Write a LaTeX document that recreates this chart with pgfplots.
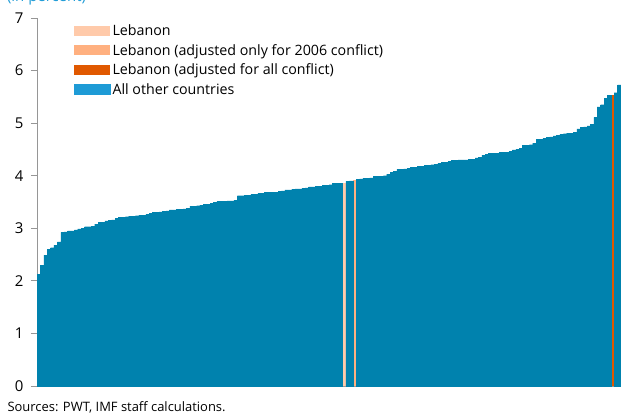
\documentclass[border=0pt]{standalone}
\usepackage{fontspec}
\setmainfont{Open Sans}
\usepackage{pgfplots}
\pgfplotsset{compat=1.18}
\usepackage{pgfplotstable}
\definecolor{barblue}{RGB}{0,130,174}
\definecolor{legblue}{RGB}{30,155,214}
\definecolor{lebA}{RGB}{255,202,170}
\definecolor{lebB}{RGB}{255,176,128}
\definecolor{lebC}{RGB}{224,88,0}
\definecolor{axisgray}{RGB}{150,150,150}
\definecolor{titleblue}{RGB}{30,155,214}

\pgfplotstableread{
x y
0 2.13
1 2.30
2 2.49
3 2.60
4 2.63
5 2.68
6 2.74
7 2.92
8 2.93
9 2.95
10 2.95
11 2.97
12 2.99
13 3.00
14 3.03
15 3.03
16 3.04
17 3.08
18 3.11
19 3.11
20 3.14
21 3.15
22 3.16
23 3.19
24 3.21
25 3.21
26 3.22
27 3.23
28 3.23
29 3.24
30 3.25
31 3.25
32 3.26
33 3.28
34 3.30
35 3.30
36 3.31
37 3.32
38 3.33
39 3.35
40 3.35
41 3.36
42 3.36
43 3.37
44 3.38
45 3.42
46 3.42
47 3.43
48 3.44
49 3.45
50 3.46
51 3.47
52 3.49
53 3.51
54 3.51
55 3.51
56 3.52
57 3.52
58 3.53
59 3.62
60 3.62
61 3.63
62 3.63
63 3.65
64 3.65
65 3.66
66 3.67
67 3.68
68 3.69
69 3.69
70 3.69
71 3.70
72 3.71
73 3.73
74 3.73
75 3.74
76 3.75
77 3.75
78 3.76
79 3.77
80 3.79
81 3.79
82 3.80
83 3.80
84 3.82
85 3.82
86 3.83
87 3.85
88 3.85
89 3.86
91 3.89
92 3.90
94 3.93
95 3.94
96 3.95
97 3.95
98 3.96
99 3.99
100 3.99
101 3.99
102 4.00
103 4.03
104 4.07
105 4.08
106 4.12
107 4.12
108 4.13
109 4.14
110 4.16
111 4.16
112 4.18
113 4.18
114 4.20
115 4.20
116 4.21
117 4.22
118 4.23
119 4.25
120 4.25
121 4.27
122 4.29
123 4.29
124 4.30
125 4.30
126 4.30
127 4.31
128 4.31
129 4.34
130 4.35
131 4.39
132 4.41
133 4.43
134 4.43
135 4.43
136 4.44
137 4.44
138 4.45
139 4.46
140 4.49
141 4.50
142 4.52
143 4.58
144 4.58
145 4.59
146 4.62
147 4.69
148 4.69
149 4.71
150 4.73
151 4.74
152 4.76
153 4.77
154 4.79
155 4.80
156 4.81
157 4.81
158 4.82
159 4.89
160 4.92
161 4.93
162 4.95
163 4.98
164 5.11
165 5.31
166 5.35
167 5.47
168 5.53
170 5.58
171 5.73
}\others

\pgfplotstableread{
x y
90 3.87
}\lebanon

\pgfplotstableread{
x y
93 3.91
}\lebanonsix

\pgfplotstableread{
x y
169 5.54
}\lebanonall

\begin{document}
\begin{tikzpicture}
\useasboundingbox (-37bp,-29bp) rectangle (584bp,386bp);
\begin{axis}[
  at={(0,0)}, anchor=south west,
  scale only axis, width=584bp, height=368bp,
  xmin=-0.5, xmax=171.5, ymin=0, ymax=7,
  axis x line*=bottom, axis y line*=left,
  ytick={0,1,2,3,4,5,6,7}, xtick=\empty,
  tick align=outside, major tick length=6bp,
  axis line style={draw=axisgray, line width=1bp},
  y tick style={draw=axisgray, line width=1bp},
  /pgf/number format/assume math mode=true,
  yticklabel style={font=\fontsize{15}{18}\selectfont, anchor=east, xshift=-4bp},
  legend style={at={(axis description cs:0.0634,0.988)}, anchor=north west,
    draw=none, fill=none, font=\fontsize{14.3}{17}\selectfont,
    row sep=3.2bp, inner sep=0pt, cells={anchor=west}},
  legend cell align=left,
]
\addplot[ybar, bar width=1, bar shift=0pt, fill=lebA, draw=none,
  legend image code/.code={\fill[lebA] (0bp,-5bp) rectangle (36bp,5bp);}] table {\lebanon};
\addlegendentry{Lebanon}
\addplot[ybar, bar width=1, bar shift=0pt, fill=lebB, draw=none,
  legend image code/.code={\fill[lebB] (0bp,-5bp) rectangle (36bp,5bp);}] table {\lebanonsix};
\addlegendentry{Lebanon (adjusted only for 2006 conflict)}
\addplot[ybar, bar width=1, bar shift=0pt, fill=lebC, draw=none,
  legend image code/.code={\fill[lebC] (0bp,-5bp) rectangle (36bp,5bp);}] table {\lebanonall};
\addlegendentry{Lebanon (adjusted for all conflict)}
\addplot[ybar, bar width=1, bar shift=0pt, fill=barblue, draw=barblue, line width=0.3bp,
  legend image code/.code={\fill[legblue] (0bp,-5bp) rectangle (36bp,5bp);}] table {\others};
\addlegendentry{All other countries}
\end{axis}
\node[anchor=base west, text=titleblue, font=\fontsize{15}{18}\selectfont] at (-33.5bp,384.9bp) {(in percent)};
\node[anchor=base west, font=\fontsize{13}{16}\selectfont] at (-33bp,-25bp) {Sources: PWT, IMF staff calculations.};
\end{tikzpicture}
\end{document}
